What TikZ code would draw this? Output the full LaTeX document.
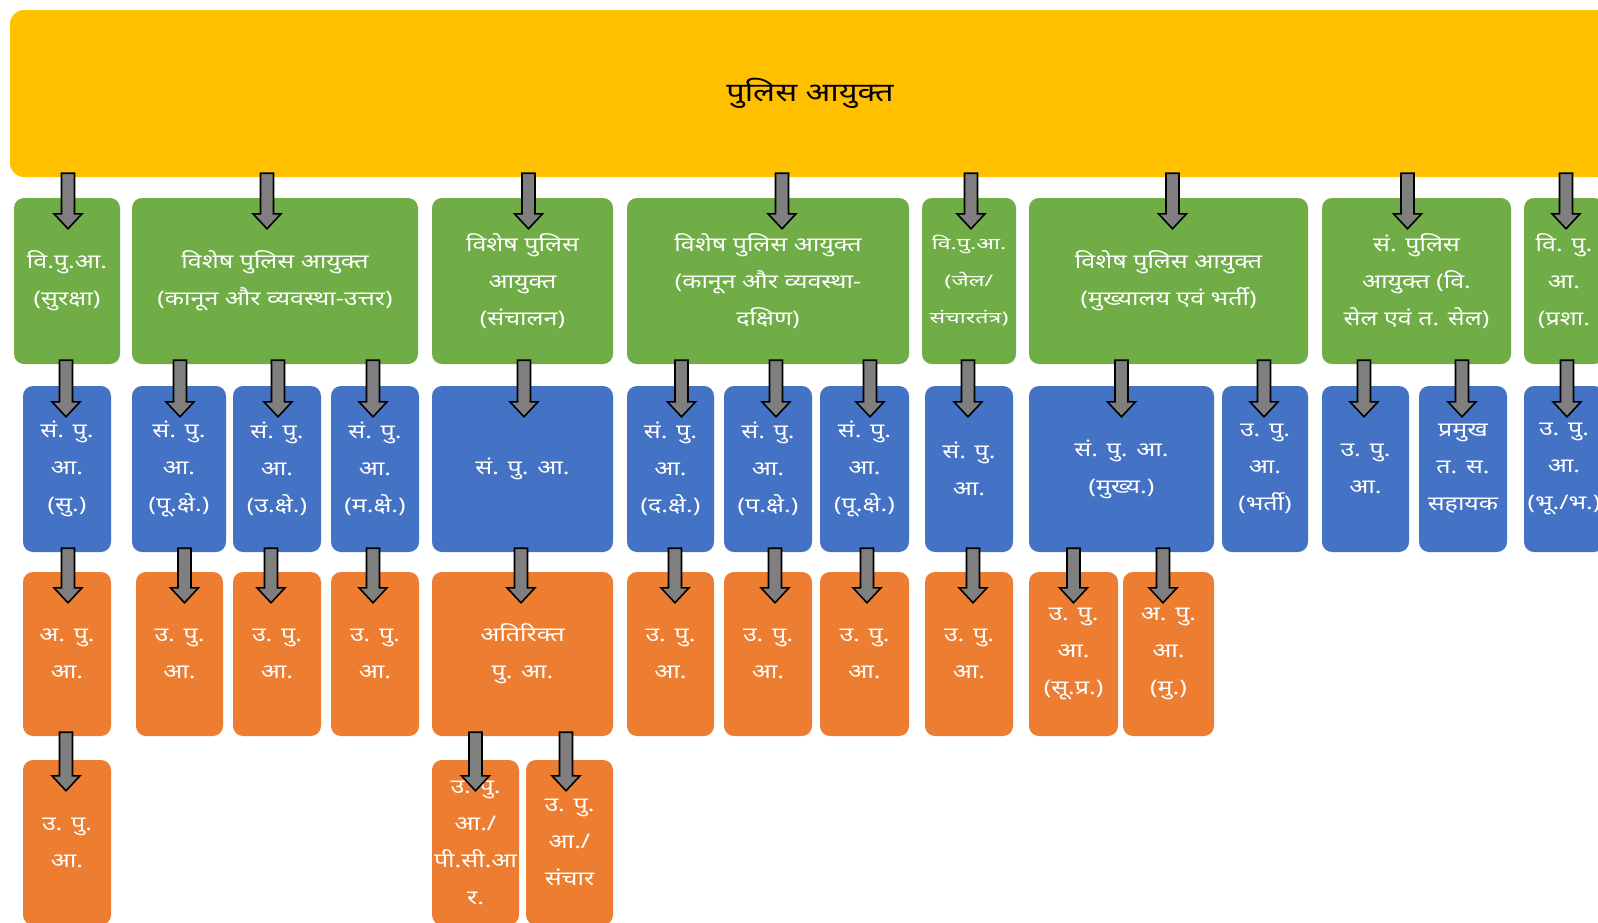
\documentclass[tikz,border=0pt]{standalone}
\usepackage{fontspec}
\newfontfamily\dev[Script=Devanagari,FakeStretch=1.25]{Noto Sans}
\newfontfamily\devn[Script=Devanagari,FakeStretch=1.45]{Noto Sans}
\usetikzlibrary{calc}
\definecolor{cpyel}{HTML}{FFC000}
\definecolor{cpgreen}{HTML}{70AD47}
\definecolor{cpblue}{HTML}{4472C4}
\definecolor{cporange}{HTML}{ED7D31}
\definecolor{cparrow}{HTML}{7F7F7F}
\tikzset{
  box/.style={rectangle, rounded corners=10pt, inner sep=0pt, align=center, text=white,
              font=\dev\fontsize{20}{37}\selectfont},
  gbox/.style={box, fill=cpgreen},
  bbox/.style={box, fill=cpblue},
  obox/.style={box, fill=cporange},
  ybox/.style={box, fill=cpyel, text=black, rounded corners=14pt, font=\dev\fontsize{26}{37}\selectfont},
  small/.style={font=\devn\fontsize{16}{37}\selectfont},
  arrowshape/.style={fill=cparrow, draw=black, line width=1.6pt, line join=miter},
}
% \cbox{style}{name}{x1}{x2}{y1}{y2}{text}
\newcommand{\cbox}[7]{%
  \node[#1, minimum width={((#4)-(#3))*1pt}, minimum height={((#6)-(#5))*1pt}]
    (#2) at ({((#3)+(#4))/2},{((#5)+(#6))/2}) {#7};}
% \barrow[xoffset]{parent}{child}
\newcommand{\barrow}[3][0]{%
  \draw[arrowshape] let \p1=(#2.south), \p2=(#3.north) in
    ({\x2+(#1pt)-6.5pt},{\y1+4pt}) -- ({\x2+(#1pt)+6.5pt},{\y1+4pt})
    -- ({\x2+(#1pt)+6.5pt},{\y2-16pt}) -- ({\x2+(#1pt)+14pt},{\y2-16pt})
    -- ({\x2+(#1pt)},{\y2-31pt}) -- ({\x2+(#1pt)-14pt},{\y2-16pt})
    -- ({\x2+(#1pt)-6.5pt},{\y2-16pt}) -- cycle;}
\begin{document}
\begin{tikzpicture}[x=1pt,y=-1pt]
\useasboundingbox (0,0) rectangle (1598,922);
\clip (0,0) rectangle (1598,922);
\fill[white] (0,0) rectangle (1598,922);
% top
\cbox{ybox}{cp}{10}{1610}{10}{177}{पुलिस आयुक्त}
% green row
\cbox{gbox}{g1}{14}{120}{198}{364}{वि.पु.आ.\\(सुरक्षा)}
\cbox{gbox}{g2}{132}{418}{198}{364}{विशेष पुलिस आयुक्त\\(कानून और व्यवस्था-उत्तर)}
\cbox{gbox}{g3}{432}{613}{198}{364}{विशेष पुलिस\\आयुक्त\\(संचालन)}
\cbox{gbox}{g4}{627}{909}{198}{364}{विशेष पुलिस आयुक्त\\(कानून और व्यवस्था-\\दक्षिण)}
\cbox{gbox,small}{g5}{922}{1016}{198}{364}{वि.पु.आ.\\(जेल/\\संचारतंत्र)}
\cbox{gbox}{g6}{1029}{1308}{198}{364}{विशेष पुलिस आयुक्त\\(मुख्यालय एवं भर्ती)}
\cbox{gbox}{g7}{1322}{1511}{198}{364}{सं. पुलिस\\आयुक्त (वि.\\सेल एवं त. सेल)}
\cbox{gbox}{g8}{1524}{1604}{198}{364}{वि. पु.\\आ.\\(प्रशा.}
% blue row
\cbox{bbox}{b1}{23}{111}{386}{552}{सं. पु.\\आ.\\(सु.)}
\cbox{bbox}{b2}{132}{226}{386}{552}{सं. पु.\\आ.\\(पू.क्षे.)}
\cbox{bbox}{b3}{233}{321}{386}{552}{सं. पु.\\आ.\\(उ.क्षे.)}
\cbox{bbox}{b4}{331}{419}{386}{552}{सं. पु.\\आ.\\(म.क्षे.)}
\cbox{bbox}{b5}{432}{613}{386}{552}{सं. पु. आ.}
\cbox{bbox}{b6}{627}{714}{386}{552}{सं. पु.\\आ.\\(द.क्षे.)}
\cbox{bbox}{b7}{724}{812}{386}{552}{सं. पु.\\आ.\\(प.क्षे.)}
\cbox{bbox}{b8}{820}{909}{386}{552}{सं. पु.\\आ.\\(पू.क्षे.)}
\cbox{bbox}{b9}{925}{1013}{386}{552}{सं. पु.\\आ.}
\cbox{bbox}{b10}{1029}{1214}{386}{552}{सं. पु. आ.\\(मुख्य.)}
\cbox{bbox}{b11}{1222}{1308}{386}{552}{उ. पु.\\आ.\\(भर्ती)}
\cbox{bbox}{b12}{1322}{1409}{386}{552}{उ. पु.\\आ.}
\cbox{bbox}{b13}{1419}{1507}{386}{552}{प्रमुख\\त. स.\\सहायक}
\cbox{bbox}{b14}{1524}{1604}{386}{552}{उ. पु.\\आ.\\(भू./भ.)}
% orange row
\cbox{obox}{o1}{23}{111}{572}{736}{अ. पु.\\आ.}
\cbox{obox}{o2}{136}{223}{572}{736}{उ. पु.\\आ.}
\cbox{obox}{o3}{233}{321}{572}{736}{उ. पु.\\आ.}
\cbox{obox}{o4}{331}{419}{572}{736}{उ. पु.\\आ.}
\cbox{obox}{o5}{432}{613}{572}{736}{अतिरिक्त\\पु. आ.}
\cbox{obox}{o6}{627}{714}{572}{736}{उ. पु.\\आ.}
\cbox{obox}{o7}{724}{812}{572}{736}{उ. पु.\\आ.}
\cbox{obox}{o8}{820}{909}{572}{736}{उ. पु.\\आ.}
\cbox{obox}{o9}{925}{1013}{572}{736}{उ. पु.\\आ.}
\cbox{obox}{o10}{1029}{1118}{572}{736}{उ. पु.\\आ.\\(सू.प्र.)}
\cbox{obox}{o11}{1123}{1214}{572}{736}{अ. पु.\\आ.\\(मु.)}
% bottom row
\cbox{obox}{o12}{23}{111}{760}{925}{उ. पु.\\आ.}
\cbox{obox}{o13}{432}{519}{760}{925}{उ. पु.\\आ./\\पी.सी.आ\\र.}
\cbox{obox}{o14}{526}{613}{760}{925}{उ. पु.\\आ./\\संचार}
% arrows: top -> green
\barrow[1]{cp}{g1}
\barrow[-8]{cp}{g2}
\barrow[6]{cp}{g3}
\barrow[14]{cp}{g4}
\barrow[2]{cp}{g5}
\barrow[4]{cp}{g6}
\barrow[-9]{cp}{g7}
\barrow[2]{cp}{g8}
% green -> blue
\barrow[-1]{g1}{b1}
\barrow[1]{g2}{b2}
\barrow[1]{g2}{b3}
\barrow[-2]{g2}{b4}
\barrow[1.5]{g3}{b5}
\barrow[11]{g4}{b6}
\barrow[8]{g4}{b7}
\barrow[5.5]{g4}{b8}
\barrow[-1]{g5}{b9}
\barrow[0]{g6}{b10}
\barrow[-1]{g6}{b11}
\barrow[-1.5]{g7}{b12}
\barrow[-1]{g7}{b13}
\barrow[3]{g8}{b14}
% blue -> orange
\barrow[1]{b1}{o1}
\barrow[5]{b2}{o2}
\barrow[-6]{b3}{o3}
\barrow[-2]{b4}{o4}
\barrow[-1.5]{b5}{o5}
\barrow[4.5]{b6}{o6}
\barrow[7]{b7}{o7}
\barrow[2.5]{b8}{o8}
\barrow[4]{b9}{o9}
\barrow[0]{b10}{o10}
\barrow[-5.5]{b10}{o11}
% orange -> bottom
\barrow[-1]{o1}{o12}
\barrow[0]{o5}{o13}
\barrow[-3.5]{o5}{o14}
\end{tikzpicture}
\end{document}
